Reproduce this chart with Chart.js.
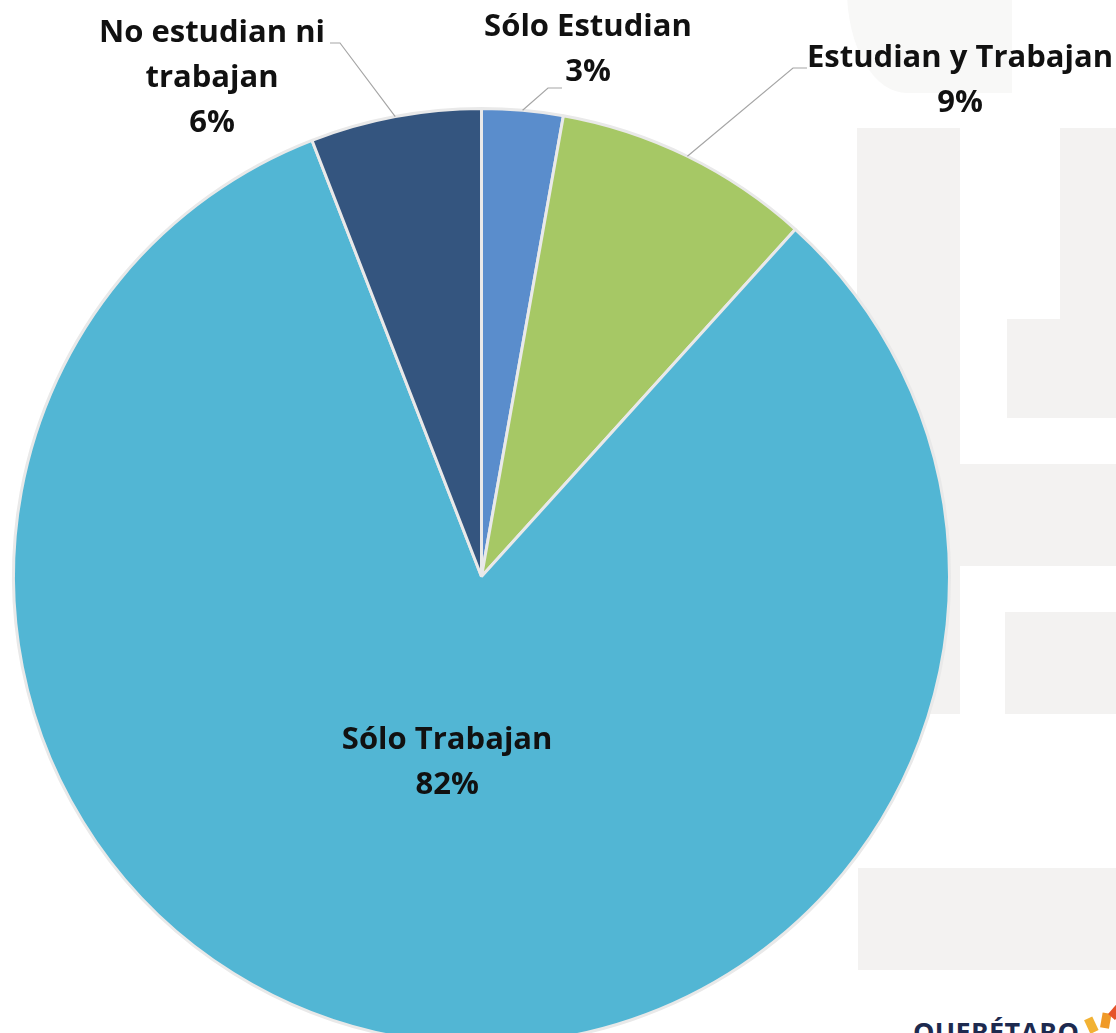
<!DOCTYPE html>
<html lang="es">
<head>
<meta charset="utf-8">
<title>Ocupación de los jóvenes</title>
<script src="https://cdn.jsdelivr.net/npm/chart.js@4.4.1/dist/chart.umd.min.js"></script>
<style>
  html, body { margin: 0; padding: 0; background: #fff; overflow: hidden; }
  body { width: 1116px; height: 1033px; position: relative; }
  .wm { position: absolute; background: #f3f2f1; }
  .chart-box { position: absolute; left: 0; top: 0; width: 1116px; height: 1100px; }
  .logo {
    position: absolute; left: 913px; top: 1013px;
    font: bold 27px "Open Sans", sans-serif; color: #1d2a4f; letter-spacing: 0.3px;
  }
  .star { position: absolute; width: 9px; height: 15px; transform-origin: 50% 100%; }
</style>
</head>
<body>
<!-- marca de agua de fondo -->
<div class="wm" style="left:847px;top:-10px;width:165px;height:103px;border-bottom-left-radius:60px 103px;background:#f8f8f7"></div>
<div class="wm" style="left:857px;top:128px;width:103px;height:586px"></div>
<div class="wm" style="left:1060px;top:128px;width:56px;height:191px"></div>
<div class="wm" style="left:1007px;top:319px;width:109px;height:99px"></div>
<div class="wm" style="left:960px;top:464px;width:156px;height:102px"></div>
<div class="wm" style="left:1005px;top:612px;width:111px;height:102px"></div>
<div class="wm" style="left:858px;top:868px;width:258px;height:102px"></div>

<div class="logo">QUERÉTARO</div>
<div class="star" style="left:1090px;top:1017px;background:#f2b233;transform:rotate(-25deg)"></div>
<div class="star" style="left:1100px;top:1013px;background:#f09a28;transform:rotate(10deg)"></div>
<div class="star" style="left:1107px;top:1002px;background:#e5532a;transform:rotate(40deg)"></div>

<div class="chart-box"><canvas id="pieChart"></canvas></div>

<script>
// =====================================================
// DONNÉES
// =====================================================
const categories = ["Sólo Estudian", "Estudian y Trabajan", "Sólo Trabajan", "No estudian ni trabajan"];
const shares = [2.8, 8.9, 82.4, 5.9];
const sliceColors = ["#5a8dcc", "#a6c865", "#52b6d4", "#34557f"];

// lignes de texte de chaque étiquette (le % est ajouté depuis les données)
const labelLines = [["Sólo Estudian"], ["Estudian y Trabajan"], ["Sólo Trabajan"], ["No estudian ni", "trabajan"]];

// =====================================================
// MISE EN PAGE DES ÉTIQUETTES
// =====================================================
// outside: coude + fin de la ligne de rappel, puis centre du texte
const labelLayout = [
  { outside: true, elbow: [548, 88], end: [562, 88], text: [588, 27] },
  { outside: true, elbow: [793, 68], end: [807, 68], text: [960, 58] },
  { outside: false, factor: 0.405 },
  { outside: true, elbow: [340, 43], end: [330, 43], text: [212, 33] }
];

const FONT = "bold 31px 'Open Sans', Lato, sans-serif";
const LINE_H = 45;

const labelPlugin = {
  id: "pieLabels",
  afterDatasetsDraw(chart) {
    const ctx = chart.ctx;
    const meta = chart.getDatasetMeta(0);
    const total = shares.reduce((a, b) => a + b, 0);

    meta.data.forEach((arc, i) => {
      const { x, y, startAngle, endAngle, outerRadius } = arc.getProps(
        ["x", "y", "startAngle", "endAngle", "outerRadius"], true);
      const mid = (startAngle + endAngle) / 2;
      const lay = labelLayout[i];
      const lines = [...labelLines[i], Math.round(shares[i] / total * 100) + "%"];

      ctx.save();
      ctx.font = FONT;
      ctx.fillStyle = "#111";
      ctx.textAlign = "center";
      ctx.textBaseline = "middle";

      let tx, ty;
      if (lay.outside) {
        const px = x + Math.cos(mid) * outerRadius;
        const py = y + Math.sin(mid) * outerRadius;
        ctx.strokeStyle = "#a6a6a6";
        ctx.lineWidth = 1.2;
        ctx.beginPath();
        ctx.moveTo(px, py);
        ctx.lineTo(lay.elbow[0], lay.elbow[1]);
        ctx.lineTo(lay.end[0], lay.end[1]);
        ctx.stroke();
        [tx, ty] = lay.text;
      } else {
        const r = outerRadius * lay.factor;
        tx = x + Math.cos(mid) * r;
        ty = y + Math.sin(mid) * r - (lines.length - 1) * LINE_H / 2;
      }
      lines.forEach((line, k) => ctx.fillText(line, tx, ty + k * LINE_H));
      ctx.restore();
    });
  }
};

// =====================================================
// GRAPHIQUE
// =====================================================
new Chart(document.getElementById("pieChart"), {
  type: "pie",
  data: {
    labels: categories,
    datasets: [{
      data: shares,
      backgroundColor: sliceColors,
      borderColor: "#e9e9e9",
      borderWidth: 3
    }]
  },
  options: {
    responsive: true,
    maintainAspectRatio: false,
    animation: false,
    layout: { padding: { left: 12, right: 165, top: 107, bottom: 54 } },
    plugins: {
      legend: { display: false },
      tooltip: { enabled: false }
    }
  },
  plugins: [labelPlugin]
});
</script>
</body>
</html>
